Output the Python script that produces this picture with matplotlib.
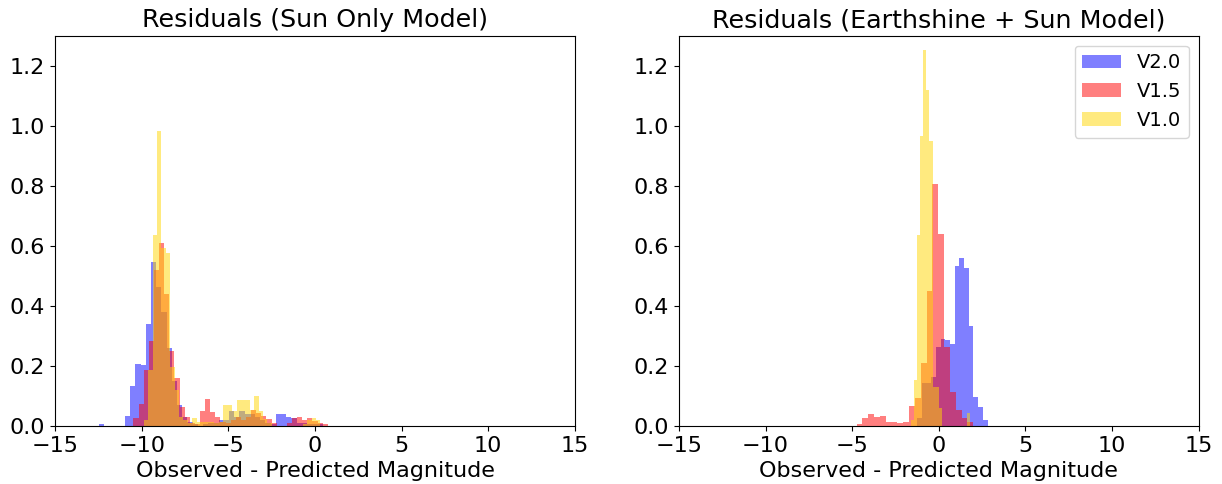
import numpy as np
import matplotlib
matplotlib.use("Agg")
import matplotlib.pyplot as plt

# Residual histograms (density), one entry per instrument version.
labels = ["V2.0", "V1.5", "V1.0"]
colors = ["blue", "red", "gold"]

# Sun-only model: first bin edge, bin width, bin heights
sun_v20_start, sun_v20_width = -12.46, 0.30
sun_v20 = [0.005, 0, 0, 0, 0, 0.033, 0.133, 0.207, 0.203, 0.34, 0.547, 0.464,
           0.381, 0.26, 0.15, 0.07, 0.031, 0.012, 0.005, 0.0, 0.005, 0.01, 0.01,
           0.02, 0.02, 0.05, 0.03, 0.05, 0.04, 0.04, 0.03, 0.02, 0.01, 0.005,
           0.04, 0.04, 0.029, 0.025, 0.011, 0.011, 0.008, 0.005, 0.005]

sun_v15_start, sun_v15_width = -10.47, 0.295
sun_v15 = [0.027, 0.073, 0.187, 0.284, 0.52, 0.61, 0.44, 0.25, 0.159, 0.062,
           0.031, 0.01, 0.005, 0.051, 0.089, 0.048, 0.031, 0.014, 0.01, 0.02,
           0.03, 0.02, 0.03, 0.053, 0.042, 0.033, 0.022, 0.009, 0.0, 0.0, 0.01,
           0.026, 0.029, 0.02, 0.026, 0.018, 0.011, 0.007]

sun_v10_start, sun_v10_width = -9.88, 0.255
sun_v10 = [0.02, 0.187, 0.637, 0.983, 0.592, 0.576, 0.198, 0.12, 0.03, 0.02,
           0.01, 0.028, 0.014, 0.014, 0.014, 0.014, 0.01, 0.014, 0.07, 0.07,
           0.05, 0.087, 0.087, 0.087, 0.053, 0.1, 0.05, 0.022, 0.01, 0, 0, 0,
           0, 0, 0, 0, 0.005, 0.02, 0.025, 0.02]

# Earthshine + Sun model
es_v20_start, es_v20_width = -1.24, 0.27
es_v20 = [0.026, 0.142, 0.142, 0.164, 0.264, 0.289, 0.287, 0.272, 0.533,
          0.559, 0.526, 0.333, 0.096, 0.062, 0.02]

es_v15_start, es_v15_width = -4.75, 0.337
es_v15 = [0.007, 0.028, 0.04, 0.031, 0.033, 0.014, 0.014, 0.009, 0.014, 0.067,
          0.094, 0.211, 0.448, 0.807, 0.64, 0.264, 0.114, 0.053, 0.026, 0.014]

es_v10_start, es_v10_width = -1.62, 0.18
es_v10 = [0.02, 0.153, 0.637, 0.967, 1.253, 1.12, 0.948, 0.131, 0.131, 0.06,
          0, 0, 0, 0, 0, 0, 0, 0, 0.042]

panels = [
    ("Residuals (Sun Only Model)",
     [(sun_v20_start, sun_v20_width, sun_v20),
      (sun_v15_start, sun_v15_width, sun_v15),
      (sun_v10_start, sun_v10_width, sun_v10)]),
    ("Residuals (Earthshine + Sun Model)",
     [(es_v20_start, es_v20_width, es_v20),
      (es_v15_start, es_v15_width, es_v15),
      (es_v10_start, es_v10_width, es_v10)]),
]

fig, axes = plt.subplots(1, 2, figsize=(12.22, 4.84), dpi=100)
fig.subplots_adjust(left=0.045, right=0.981, bottom=0.12, top=0.926, wspace=0.2)

for ax, (title, series) in zip(axes, panels):
    for (start, width, heights), lab, col in zip(series, labels, colors):
        heights = np.asarray(heights, dtype=float)
        edges = start + width * np.arange(len(heights) + 1)
        centers = 0.5 * (edges[:-1] + edges[1:])
        ax.hist(centers, bins=edges, weights=heights, alpha=0.5,
                color=col, label=lab)
    ax.set_xlim(-15, 15)
    ax.set_ylim(0, 1.3)
    ax.set_xticks(np.arange(-15, 16, 5))
    ax.set_yticks(np.arange(0, 1.21, 0.2))
    ax.tick_params(labelsize=16)
    ax.set_title(title, fontsize=18.3)
    ax.set_xlabel("Observed - Predicted Magnitude", fontsize=16)

axes[1].legend(loc="upper right", fontsize=14)

fig.savefig("out.png", dpi=100)
